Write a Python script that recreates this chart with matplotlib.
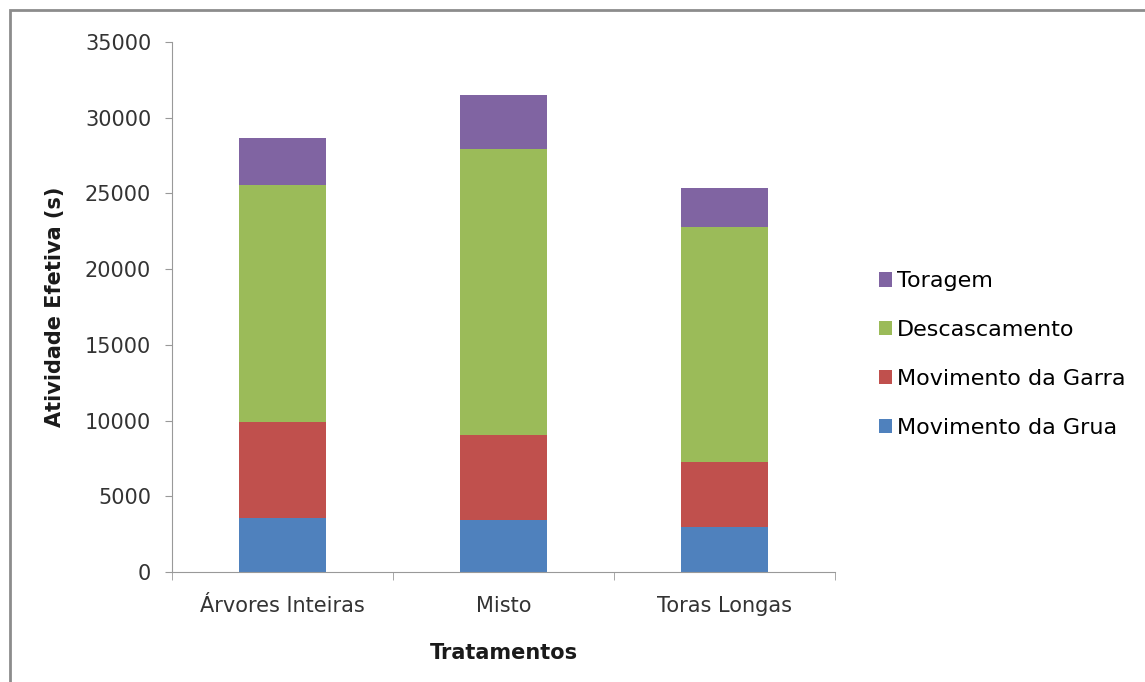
import matplotlib
matplotlib.use('Agg')
import matplotlib.pyplot as plt
from matplotlib.patches import Rectangle
import numpy as np

plt.rcParams['font.family'] = ['DejaVu Sans']

tratamentos = ['Árvores Inteiras', 'Misto', 'Toras Longas']
grua = [3570, 3430, 2970]
garra = [6340, 5620, 4290]
descascamento = [15650, 18890, 15520]
toragem = [3100, 3560, 2580]

series = [('Movimento da Grua', grua, '#4F81BD'),
          ('Movimento da Garra', garra, '#C0504D'),
          ('Descascamento', descascamento, '#9BBB59'),
          ('Toragem', toragem, '#8064A2')]

fig = plt.figure(figsize=(11.45, 6.82), dpi=100)
ax = fig.add_axes([172 / 1145, 110 / 682, 663 / 1145, 530 / 682])

x = np.arange(len(tratamentos))
bottom = np.zeros(len(tratamentos))
handles = []
for name, vals, col in series:
    b = ax.bar(x, vals, width=0.39, bottom=bottom, color=col, label=name)
    handles.append(b)
    bottom += np.array(vals)

ax.set_xlim(-0.5, 2.5)
ax.set_ylim(0, 35000)
ax.set_yticks(np.arange(0, 35001, 5000))
ax.set_xticks(x)
ax.set_xticklabels(tratamentos)
ax.set_xticks([-0.5, 0.5, 1.5, 2.5], minor=True)
ax.tick_params(axis='x', which='major', length=0, pad=17, labelsize=15, colors='#333333')
ax.tick_params(axis='x', which='minor', length=6, color='#999999')
ax.tick_params(axis='y', length=5, color='#999999', labelsize=15, pad=10, colors='#333333')
ax.tick_params(axis='y', color='#999999')

for s in ['top', 'right']:
    ax.spines[s].set_visible(False)
for s in ['left', 'bottom']:
    ax.spines[s].set_color('#999999')

ax.set_ylabel('Atividade Efetiva (s)', fontsize=15, fontweight='bold', labelpad=14, color='#1a1a1a')
ax.set_xlabel('Tratamentos', fontsize=15, fontweight='bold', labelpad=20, color='#1a1a1a')

fig.legend(handles[::-1], [s[0] for s in series][::-1], loc='center left',
           bbox_to_anchor=(0.750, 0.480), frameon=False, fontsize=16,
           handlelength=0.6, handleheight=0.6, handletextpad=0.2, labelspacing=1.3)

# moldura cinza do grafico
fig.patches.append(Rectangle((10 / 1145, -0.05), 1.1, (682 - 10) / 682 + 0.05,
                             transform=fig.transFigure, fill=False,
                             edgecolor='#8c8c8c', linewidth=2))

fig.savefig('out.png', dpi=100)
